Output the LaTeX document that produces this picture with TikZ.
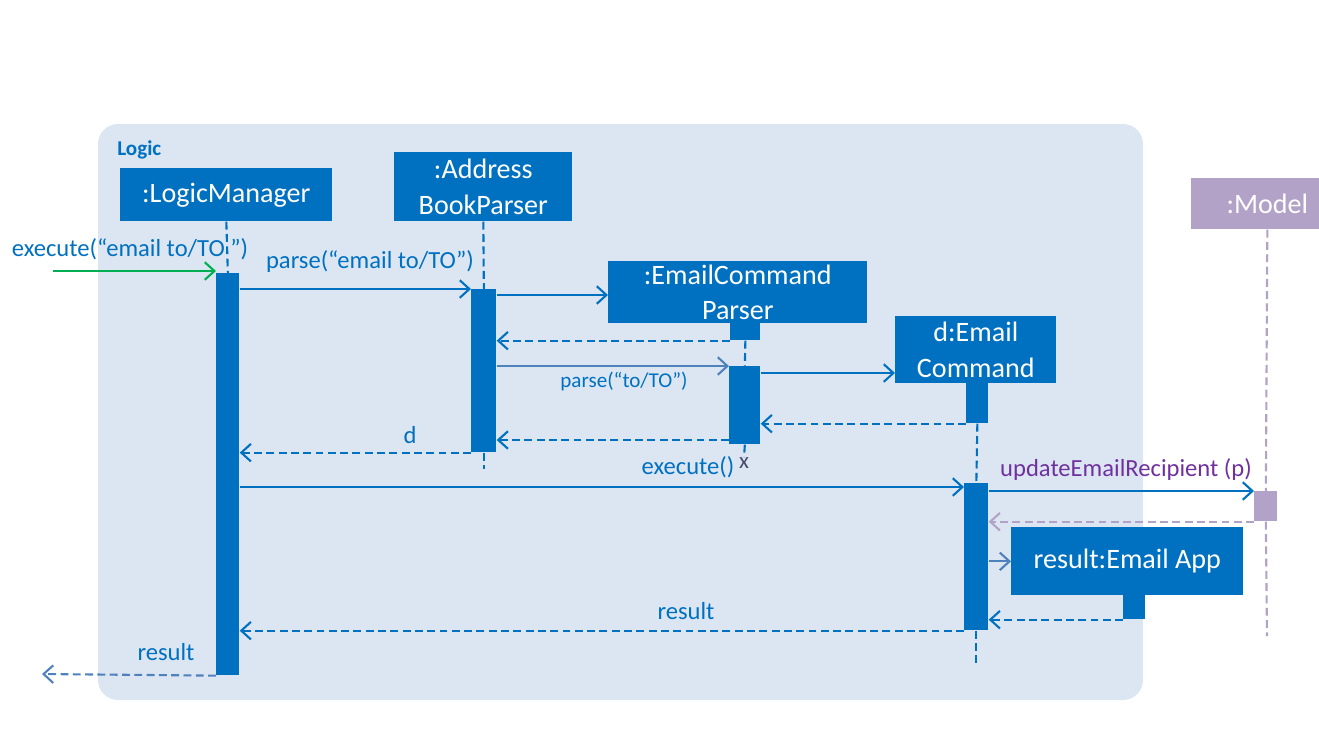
\documentclass[tikz,border=0pt]{standalone}
\usepackage{fontspec}
\setmainfont{Carlito}
\usetikzlibrary{arrows.meta}

\definecolor{umlblue}{HTML}{0070C0}
\definecolor{framebg}{HTML}{DCE6F2}
\definecolor{softblue}{HTML}{4F81BD}
\definecolor{modelpurple}{HTML}{B3A2C7}
\definecolor{textpurple}{HTML}{7030A0}
\definecolor{callgreen}{HTML}{00B050}
\definecolor{crossgray}{HTML}{4A4A6A}

\begin{document}
\begin{tikzpicture}[x=0.02cm,y=-0.02cm,
	obj/.style={fill=umlblue,text=white,font=\fontsize{16}{20}\selectfont,align=center,inner sep=0pt,anchor=north west},
	act/.style={fill=umlblue,inner sep=0pt,anchor=north west},
	life/.style={umlblue,line width=1.2pt,dash pattern=on 4.5pt off 2.5pt},
	msg/.style={umlblue,line width=1.2pt,-{Straight Barb[length=5.5pt,width=10pt]}},
	ret/.style={msg,dash pattern=on 4.5pt off 2.5pt},
	lbl/.style={text=umlblue,font=\fontsize{14}{16}\selectfont,inner sep=0pt}
	]
	
	\useasboundingbox (0,0) rectangle (1319,731);
	
	% frame
	\fill[framebg, rounded corners=0.4cm] (98,124) rectangle (1143,700);
	\node[text=umlblue,font=\bfseries\fontsize{12}{13}\selectfont,anchor=west,inner sep=0pt] (logic) at (117,150) {Logic};
	
	% objects
	\node[obj,minimum width=4.24cm,minimum height=1.06cm] (lm) at (120,168) {:LogicManager};
	\node[obj,minimum width=3.56cm,minimum height=1.38cm] (abp) at (394,152) {:Address\\BookParser};
	\node[obj,minimum width=5.18cm,minimum height=1.24cm] (ecp) at (608,261) {:EmailCommand\\Parser};
	\node[obj,minimum width=3.22cm,minimum height=1.34cm] (dec) at (895,316) {d:Email\\Command};
	\node[obj,fill=modelpurple,minimum width=3.04cm,minimum height=1.02cm] (model) at (1191,178) {:Model};
	\node[obj,minimum width=4.64cm,minimum height=1.36cm] (res) at (1011,527) {result:Email App};
	
	% activations
	\node[act,minimum width=0.46cm,minimum height=8.04cm] (lmAct) at (216,273) {};
	\node[act,minimum width=0.5cm,minimum height=3.26cm] (abpAct) at (471,289) {};
	\node[act,minimum width=0.6cm,minimum height=0.34cm] (ecpTop) at (730,323) {};
	\node[act,minimum width=0.62cm,minimum height=1.56cm] (ecpAct) at (729,366) {};
	\node[act,minimum width=0.44cm,minimum height=0.8cm] (decTop) at (966,383) {};
	\node[act,minimum width=0.48cm,minimum height=2.94cm] (decAct) at (964,483) {};
	\node[act,fill=modelpurple,minimum width=0.46cm,minimum height=0.6cm] (modelAct) at (1254,491) {};
	\node[act,minimum width=0.44cm,minimum height=0.48cm] (resTop) at (1123,595) {};
	
	% lifelines
	\draw[life] (lm.south) -- (lmAct.north);
	\draw[life] (abp.south) -- (abpAct.north);
	\draw[life] (abpAct.south) -- ++(0,16);
	\draw[life] (ecpTop.south) -- (ecpAct.north);
	\node[text=crossgray,font=\fontsize{13}{13}\selectfont,inner sep=0pt] (ecpEnd) at (744,463) {x};
	\draw[life] (ecpAct.south) -- (ecpEnd.north);
	\draw[life] (decTop.south) -- (decAct.north);
	\draw[life] (decAct.south) -- ++(0,32);
	\coordinate (modelEnd) at (1267,636);
	\draw[life,modelpurple] (model.south) -- (modelAct.north);
	\draw[life,modelpurple] (modelAct.south) -- (modelEnd);
	
	% messages
	\coordinate (caller) at (53,271);
	\draw[msg,callgreen] (caller) -- (lmAct.west |- caller);
	\node[lbl] (execLbl) at (130,249) {execute(“email to/TO ”)};
	
	\draw[msg] (lmAct.east |- abpAct.north) -- (abpAct.north west);
	\node[lbl] (parseLbl) at (370,261) {parse(“email to/TO”)};
	
	\draw[msg] (abpAct.east |- 0,295) -- (ecp.west |- 0,295);
	\draw[ret] (ecpTop.south west) -- (abpAct.east |- ecpTop.south);
	
	\draw[msg,softblue] (abpAct.east |- ecpAct.north) -- (ecpAct.north west);
	\node[lbl,font=\fontsize{12}{14}\selectfont] (parseToLbl) at (624,381) {parse(“to/TO”)};
	
	\draw[msg] (ecpAct.east |- 0,373) -- (dec.west |- 0,373);
	\draw[ret] (decTop.south west) -- (ecpAct.east |- decTop.south);
	\draw[ret] (ecpAct.west |- 0,440) -- (abpAct.east |- 0,440);
	
	\draw[ret] (abpAct.south west) -- (lmAct.east |- abpAct.south);
	\node[lbl] (dLbl) at (410,435) {d};
	
	\draw[msg] (lmAct.east |- 0,487) -- (decAct.west |- 0,487);
	\node[lbl] (execCmdLbl) at (688,467) {execute()};
	
	\draw[msg] (decAct.east |- modelAct.north) -- (modelAct.north west);
	\node[lbl,text=textpurple] (updateLbl) at (1126,469) {updateEmailRecipient (p)};
	\draw[ret,modelpurple] (modelAct.south west) -- (decAct.east |- modelAct.south);
	
	\draw[msg,softblue] (decAct.east |- res.west) -- (res.west);
	\draw[ret] (resTop.south west) -- (decAct.east |- resTop.south);
	
	\draw[ret] (decAct.south west) -- (lmAct.east |- decAct.south);
	\node[lbl] (resLbl) at (686,611) {result};
	
	\coordinate (callerBack) at (42,674);
	\draw[ret,softblue] (lmAct.south west) -- (callerBack);
	\node[lbl] (resOutLbl) at (166,652) {result};
	
\end{tikzpicture}
\end{document}
